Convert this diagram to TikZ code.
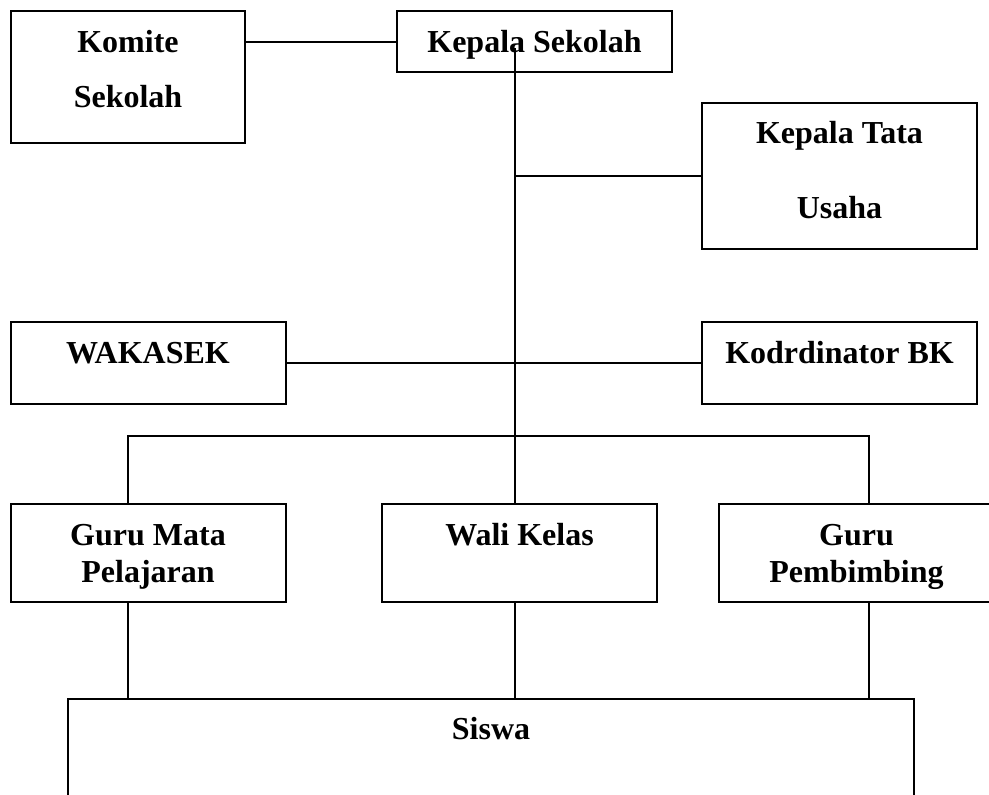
\documentclass[tikz,border=0pt]{standalone}
\usepackage{fontspec}
\setmainfont{Liberation Serif}
\usetikzlibrary{positioning}
\usetikzlibrary{calc}
\tikzstyle{orgbox}=[rectangle,draw=black,line width=1pt,fill=white,inner sep=0pt,outer sep=0pt]
\tikzstyle{orgtext}=[font=\fontsize{16}{19}\selectfont\bfseries,inner sep=0pt,anchor=base]
\tikzstyle{link} = [draw,line width=1pt]

\begin{document}
\begin{tikzpicture}[x=0.5pt,y=-0.5pt]

   \useasboundingbox (0,0) rectangle (989,794);
   \clip (0,0) rectangle (989,794);

%Boxes
	\def\w{137.5pt};
	\def\hs{41pt};
	\def\hg{49pt};

%top row
    \node[orgbox,minimum width=117pt,minimum height=66pt] (komite) at (128,77) {};
    \node[orgbox,minimum width=\w,minimum height=30.5pt] (kepala) at (534.5,41.5) {};
    \node[orgbox,minimum width=\w,minimum height=73pt] (ktu) at (839.5,176) {};
%middle row
    \foreach \pos/\name in {{(148,363)/wakasek}, {(839.5,363)/kodr}}
        \node[orgbox,minimum width=\w,minimum height=\hs] (\name) at \pos {};
%guru row
    \foreach \pos/\name in {{(148,553)/gmp}, {(519.5,553)/wali}, {(856.5,553)/gp}}
        \node[orgbox,minimum width=\w,minimum height=\hg] (\name) at \pos {};
%bottom
    \node[orgbox,minimum width=423pt,minimum height=75.5pt] (siswa) at (491,774.5) {};

% Label
    \foreach \pos/\name/\txt in {{(128,52)/komiteA/Komite}, {(128,107)/komiteB/Sekolah},
        {(534.5,52)/kepalaA/Kepala Sekolah},
        {(839.5,143)/ktuA/Kepala Tata}, {(839.5,218)/ktuB/Usaha},
        {(148,363)/wakasekA/WAKASEK}, {(839.5,363)/kodrA/Kodrdinator BK},
        {(148,545)/gmpA/Guru Mata}, {(148,582)/gmpB/Pelajaran},
        {(519.5,545)/waliA/Wali Kelas},
        {(856.5,545)/gpA/Guru}, {(856.5,582)/gpB/Pembimbing},
        {(491,739)/siswaA/Siswa}}
        \node[orgtext] (\name) at \pos {\txt};

% Edges
	\coordinate (spine) at (515,48);
	\coordinate (barL) at (128,436);
	\coordinate (barR) at (869,436);

	\path[link] (kepala.west) -- (kepala.west -| komite.east);
	\path[link] (spine) -- (spine |- wali.north);
	\path[link] (ktu.west) -- (ktu.west -| spine);
	\path[link] (wakasek.east) -- (kodr.west);
	\path[link] (barL |- gmp.north) -- (barL) -- (barR) -- (barR |- gp.north);

 	%guru to siswa
  	\foreach \x/\source in {barL/gmp, spine/wali, barR/gp}
		\path[link] (\source.south -| \x) -- (siswa.north -| \x);

\end{tikzpicture}
\end{document}
